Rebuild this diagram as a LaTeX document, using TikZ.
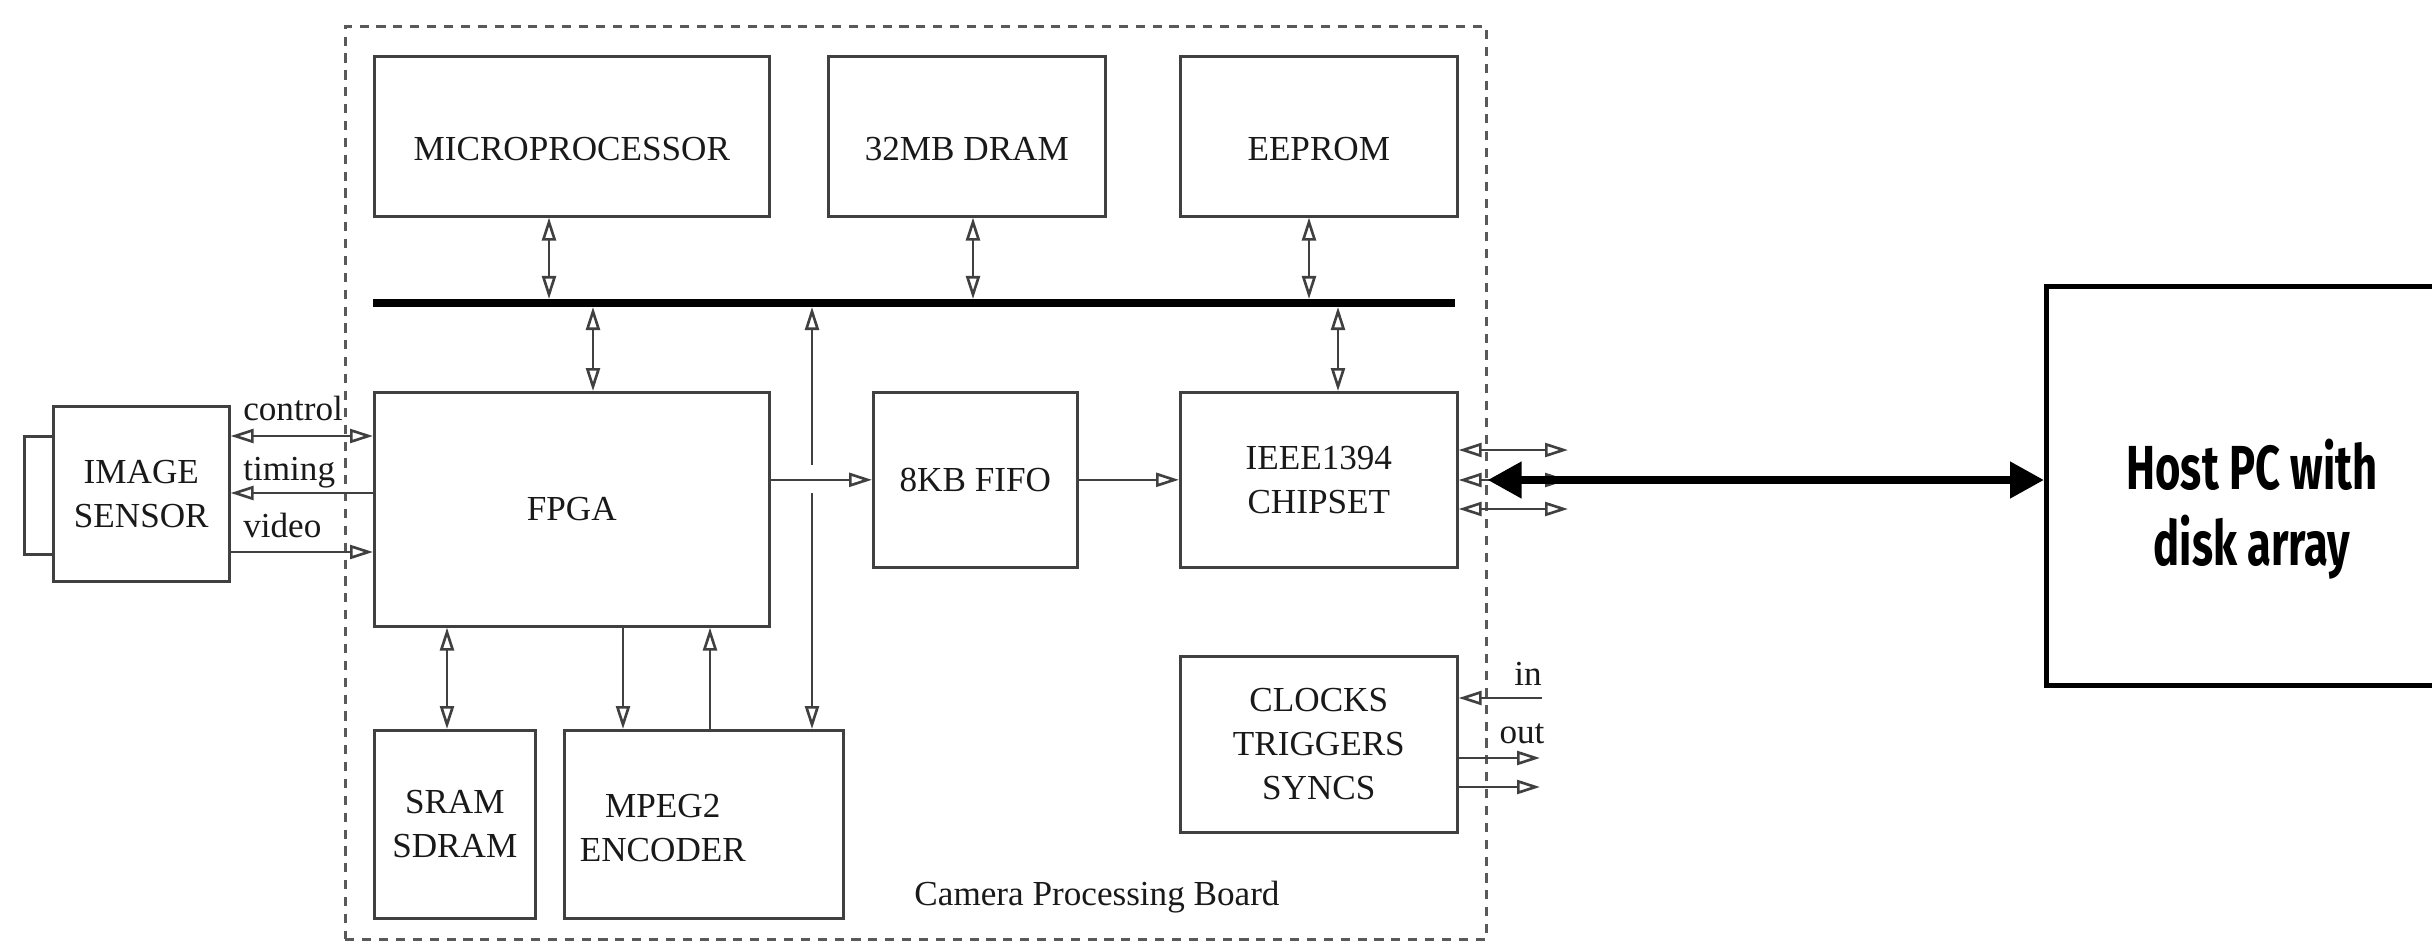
\documentclass[tikz,border=0pt]{standalone}
\usepackage{fontspec}
\setmainfont{Liberation Serif}
\newfontfamily\hostfont[FakeStretch=0.7]{Fira Sans}
\usetikzlibrary{arrows.meta}

\begin{document}
\begin{tikzpicture}[
    >={Triangle[open,length=2.3mm,width=1.4mm]},
    line width=0.75pt, color=black!75,
    blk/.style={draw, anchor=north west, inner sep=0pt, align=center,
      font=\fontsize{10}{12.5}\selectfont, text=black!90},
    lbl/.style={inner sep=0pt, font=\fontsize{10}{12.5}\selectfont, text=black!90},
    board/.style={draw=black!65, dash pattern=on 2.6pt off 2.2pt, anchor=north west,
      inner sep=0pt, minimum width=11.41cm, minimum height=9.13cm},
    bigarrow/.style={black, line width=2.2pt,
      {Triangle[length=3.4mm,width=3.5mm]}-{Triangle[length=3.4mm,width=3.5mm]}}
  ]
  \useasboundingbox (0,0) rectangle (24.32,-9.41);
  \clip (0,0) rectangle (24.32,-9.41);

  % camera processing board
  \node[board] (board) at (3.44,-0.25) {};
  \node[blk, minimum width=3.95cm, minimum height=1.6cm, text height=14pt] (micro) at (3.73,-0.55) {MICROPROCESSOR};
  \node[blk, minimum width=2.77cm, minimum height=1.6cm, text height=14pt] (dram) at (8.27,-0.55) {32MB DRAM};
  \node[blk, minimum width=2.77cm, minimum height=1.6cm, text height=14pt] (eeprom) at (11.79,-0.55) {EEPROM};
  \node[blk, minimum width=3.95cm, minimum height=2.34cm] (fpga) at (3.73,-3.91) {FPGA};
  \node[blk, minimum width=2.04cm, minimum height=1.75cm] (fifo) at (8.72,-3.91) {8KB FIFO};
  \node[blk, minimum width=2.77cm, minimum height=1.75cm] (ieee) at (11.79,-3.91) {IEEE1394\\CHIPSET};
  \node[blk, minimum width=2.77cm, minimum height=1.76cm] (clocks) at (11.79,-6.55) {CLOCKS\\TRIGGERS\\SYNCS};
  \node[blk, minimum width=1.61cm, minimum height=1.88cm] (sram) at (3.73,-7.29) {SRAM\\SDRAM};
  \node[blk, minimum width=2.79cm, minimum height=1.88cm] (mpeg) at (5.63,-7.29) {};
  \node[lbl, align=center] (mpegtxt) at ([xshift=-4.1mm,yshift=-0.4mm]mpeg.center) {MPEG2\\ENCODER};
  \node[lbl, anchor=base] (boardtxt) at (10.97,-9.05) {Camera Processing Board};

  % bus
  \coordinate (busL) at (3.73,-3.03);
  \coordinate (busR) at (14.55,-3.03);
  \draw[black, line width=2.3pt] (busL) -- (busR);
  \coordinate (xmicro) at (5.49,-3.03);
  \coordinate (xdram) at (9.73,-3.03);
  \coordinate (xeeprom) at (13.09,-3.03);
  \coordinate (xfpga) at (5.93,-3.03);
  \coordinate (xmpeg) at (8.12,-3.03);
  \coordinate (xieee) at (13.38,-3.03);
  \draw[<->, shorten >=1.15pt] (micro.south -| xmicro) -- (xmicro);
  \draw[<->, shorten >=1.15pt] (dram.south -| xdram) -- (xdram);
  \draw[<->, shorten >=1.15pt] (eeprom.south -| xeeprom) -- (xeeprom);
  \draw[<->, shorten <=1.15pt] (xfpga) -- (fpga.north -| xfpga);
  \draw[<->, shorten <=1.15pt] (xieee) -- (ieee.north -| xieee);

  % bus to encoder, broken where it crosses the fifo link
  \coordinate (gapA) at (8.12,-4.65);
  \coordinate (gapB) at (8.12,-4.93);
  \draw[<-, shorten <=1.15pt] (xmpeg) -- (gapA);
  \draw[->] (gapB) -- (mpeg.north -| gapB);
  \draw[->] (fpga.east |- fifo) -- (fifo.west);
  \draw[->] (fifo) -- (ieee);

  % fpga to memory and encoder
  \coordinate (xsram) at (4.47,0);
  \coordinate (xdown) at (6.23,0);
  \coordinate (xup) at (7.10,0);
  \draw[<->] (fpga.south -| xsram) -- (sram.north -| xsram);
  \draw[->] (fpga.south -| xdown) -- (mpeg.north -| xdown);
  \draw[->] (mpeg.north -| xup) -- (fpga.south -| xup);

  % image sensor
  \node[blk, minimum width=0.29cm, minimum height=1.18cm] (lens) at (0.23,-4.35) {};
  \node[blk, fill=white, minimum width=1.76cm, minimum height=1.75cm] (sensor) at (0.52,-4.05) {IMAGE\\SENSOR};
  \coordinate (yctl) at (0,-4.36);
  \coordinate (ytim) at (0,-4.93);
  \coordinate (yvid) at (0,-5.52);
  \draw[<->] (sensor.east |- yctl) -- (fpga.west |- yctl);
  \draw[->] (fpga.west |- ytim) -- (sensor.east |- ytim);
  \draw[->] (sensor.east |- yvid) -- (fpga.west |- yvid);
  \node[lbl, anchor=base west] (lctl) at (2.42,-4.20) {control};
  \node[lbl, anchor=base west] (ltim) at (2.42,-4.80) {timing};
  \node[lbl, anchor=base west] (lvid) at (2.42,-5.37) {video};

  % 1394 ports
  \coordinate (p1) at (15.68,-4.50);
  \coordinate (p2) at (15.68,-4.80);
  \coordinate (p3) at (15.68,-5.09);
  \draw[<->] (ieee.east |- p1) -- (p1);
  \draw[<->] (ieee.east |- p2) -- (p2);
  \draw[<->] (ieee.east |- p3) -- (p3);

  % clocks in/out
  \coordinate (cin) at (15.42,-6.98);
  \coordinate (cout1) at (15.40,-7.58);
  \coordinate (cout2) at (15.40,-7.87);
  \draw[->] (cin) -- (clocks.east |- cin);
  \draw[->] (clocks.east |- cout1) -- (cout1);
  \draw[->] (clocks.east |- cout2) -- (cout2);
  \node[lbl, anchor=base] (lin) at (15.28,-6.85) {in};
  \node[lbl, anchor=base] (lout) at (15.22,-7.43) {out};

  % host
  \node[draw=black, line width=1.3pt, anchor=north west, minimum width=4.16cm, minimum height=3.99cm] (host) at (20.44,-2.84) {};
  \node[black, inner sep=0pt, align=center, font=\hostfont\bfseries\fontsize{17.7}{21.6}\selectfont] (hosttxt) at (22.52,-5.09) {Host PC with\\disk array};
  \draw[bigarrow] (board.east |- p2) -- (host.west |- p2);
\end{tikzpicture}
\end{document}
